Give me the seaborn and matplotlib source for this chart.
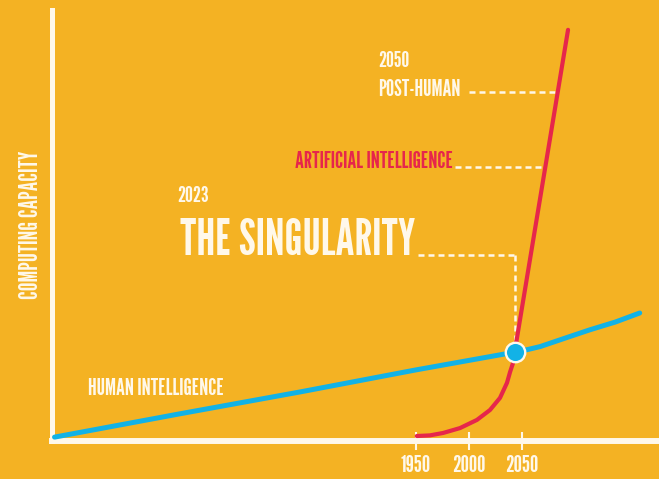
import matplotlib
matplotlib.use("Agg")
import matplotlib.pyplot as plt
import seaborn as sns
import pandas as pd

# ---- data (years vs. relative computing capacity) ----
human_years = [1609, 1727, 1841, 1950, 2043, 2055, 2067, 2091, 2114, 2138, 2161]
human_capacity = [0.9, 6.3, 11.4, 16.5, 20.6, 21.2, 21.9, 23.9, 25.8, 27.6, 29.7]

ai_years = [1950.7, 1963, 1975.5, 1991.5, 2007.5, 2019.8, 2029.2, 2035.8, 2038.7, 2041.5, 2043, 2093.4]
ai_capacity = [1.16, 1.3, 1.86, 3.0, 4.9, 7.2, 10.0, 13.5, 16.0, 18.1, 20.6, 95.4]

singularity_year = [2043]
singularity_capacity = [20.6]

tick_years = [1950, 2000, 2050]
tick_labels = ["1950", "2000", "2050"]

posthuman_level = 81.0
ai_level = 63.6
sing_level = 43.2

BG = "#F4B223"
RED = "#E6264B"
BLUE = "#12B2E6"
WHITE = "#FFF8EA"
FONT = ["League Gothic", "DejaVu Sans Condensed", "DejaVu Sans"]

sns.set_theme(style="white")
plt.rcParams["font.family"] = FONT

W, H = 659, 479
fig = plt.figure(figsize=(W / 100, H / 100), dpi=100, facecolor=BG)
ax = fig.add_axes([52 / W, (H - 441) / H, (W - 52) / W, (441 - 10) / H])
ax.set_facecolor(BG)

human = pd.DataFrame({"year": human_years, "cap": human_capacity})
ai = pd.DataFrame({"year": ai_years, "cap": ai_capacity})

sns.lineplot(data=human, x="year", y="cap", ax=ax, color=BLUE, lw=3.6,
             estimator=None, sort=False, solid_capstyle="round",
             solid_joinstyle="round", zorder=3)
sns.lineplot(data=ai, x="year", y="cap", ax=ax, color=RED, lw=3.0,
             estimator=None, sort=False, solid_capstyle="round",
             solid_joinstyle="round", zorder=4)

dash = (0, (2.4, 1.6))
dkw = dict(color=WHITE, lw=1.8, linestyle=dash, zorder=2)
ax.plot([2000, 2081], [posthuman_level, posthuman_level], **dkw)
ax.plot([1987, 2069], [ai_level, ai_level], **dkw)
ax.plot([1952, 2043], [sing_level, sing_level], **dkw)
ax.plot([2043, 2043], [sing_level, 23.4], **dkw)

sns.scatterplot(x=singularity_year, y=singularity_capacity, ax=ax, s=14 ** 2,
                color=BLUE, edgecolor=WHITE, linewidth=1.7, zorder=5)

ax.set_xlim(1606.6, 2179.2)
ax.set_ylim(0, 100)
ax.set_xticks(tick_years)
ax.set_xticklabels(tick_labels)
ax.set_yticks([])
ax.set_xlabel("")
ax.set_ylabel("")
ax.tick_params(axis="x", bottom=True, direction="inout", length=13, width=1.5,
               colors=WHITE, labelsize=17, pad=3.5)
for s in ["top", "right"]:
    ax.spines[s].set_visible(False)
ax.spines["left"].set_color(WHITE)
ax.spines["left"].set_linewidth(3.6)
ax.spines["bottom"].set_color(WHITE)
ax.spines["bottom"].set_linewidth(4.3)
ax.spines["bottom"].set_zorder(1)


def ftext(x, y, s, size, color=WHITE, **kw):
    fig.text(x / W, 1 - y / H, s, fontsize=size, color=color, ha="left",
             va="baseline", family=FONT, **kw)


fig.text(38 / W, 1 - 225 / H, "COMPUTING CAPACITY", fontsize=17.5,
         color=WHITE, rotation=90, rotation_mode="anchor",
         ha="center", va="baseline", family=FONT)
ftext(88, 395, "HUMAN INTELLIGENCE", 16.5)
ftext(378, 67, "2050", 16)
ftext(378, 96, "POST-HUMAN", 16.5)
ftext(295, 168, "ARTIFICIAL INTELLIGENCE", 16.5, color=RED)
ftext(177, 202, "2023", 16)
ftext(180, 255, "THE SINGULARITY", 35.5)

fig.savefig("out.png", dpi=100, facecolor=BG)
